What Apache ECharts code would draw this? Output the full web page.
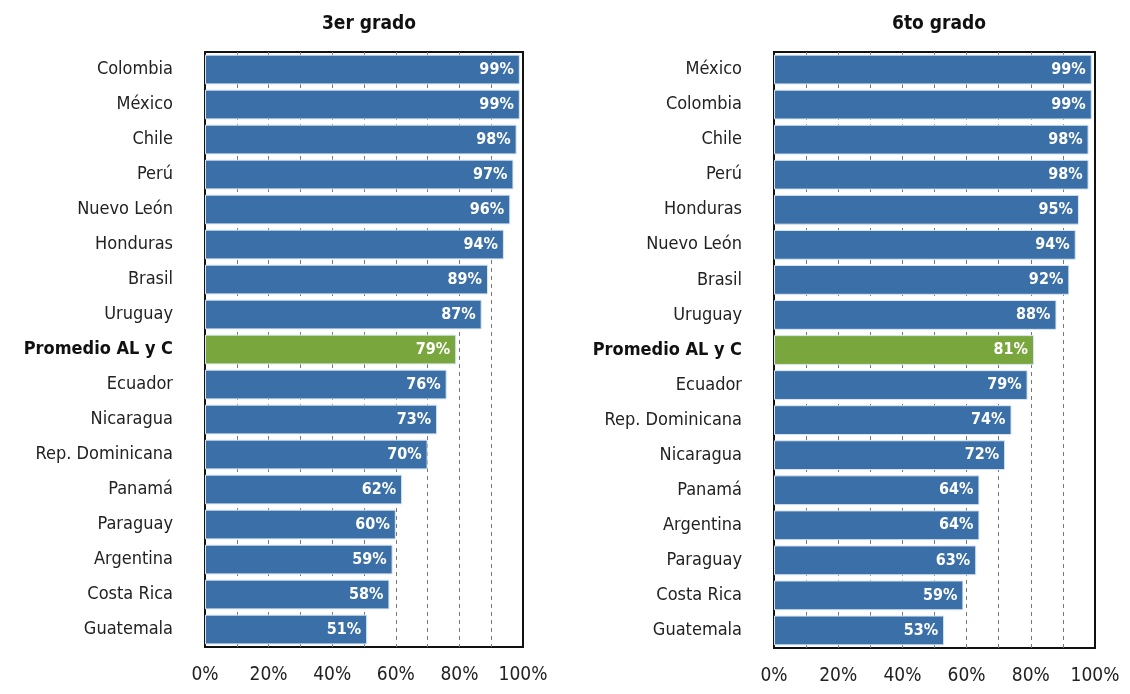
<!DOCTYPE html>
<html>
<head>
<meta charset="utf-8">
<script src="https://cdn.jsdelivr.net/npm/echarts@6/dist/echarts.min.js"></script>
<style>
html,body{margin:0;padding:0;background:#fff;}
#main{width:1130px;height:694px;}
</style>
</head>
<body>
<div id="main"></div>
<script>
var cats3 = ['Colombia','México','Chile','Perú','Nuevo León','Honduras','Brasil','Uruguay','Promedio AL y C','Ecuador','Nicaragua','Rep. Dominicana','Panamá','Paraguay','Argentina','Costa Rica','Guatemala'];
var vals3 = [99,99,98,97,96,94,89,87,79,76,73,70,62,60,59,58,51];
var cats6 = ['México','Colombia','Chile','Perú','Honduras','Nuevo León','Brasil','Uruguay','Promedio AL y C','Ecuador','Rep. Dominicana','Nicaragua','Panamá','Argentina','Paraguay','Costa Rica','Guatemala'];
var vals6 = [99,99,98,98,95,94,92,88,81,79,74,72,64,64,63,59,53];
var titles = ['3er grado','6to grado'];
var avgName = 'Promedio AL y C';

var font = "'DejaVu Sans Condensed','Liberation Sans Narrow',sans-serif";
var blue = '#3b6fa7', green = '#79a73d';
// dashed grid every 10%, none over the frame at 0% and 100%
var gridColors = ['rgba(0,0,0,0)','#777','#777','#777','#777','#777','#777','#777','#777','#777','rgba(0,0,0,0)'];

function barData(cats, vals){
	return vals.map(function(v,i){
		return {value:v, itemStyle:{color: cats[i]==avgName ? green : blue}};
	});
}
function xAx(idx){
	return {
		gridIndex:idx, type:'value', min:0, max:100, interval:10,
		axisLine:{show:false}, axisTick:{show:false},
		axisLabel:{
			margin:19, color:'#222', fontFamily:font, fontSize:19,
			formatter:function(v){ return v%20===0 ? v+'%' : ''; }
		},
		splitLine:{show:true, lineStyle:{color:gridColors, type:[4,4], width:1}}
	};
}
function yAx(idx, cats){
	return {
		gridIndex:idx, type:'category', inverse:true, data:cats,
		axisLine:{show:false}, axisTick:{show:false},
		axisLabel:{
			margin:32, color:'#222', fontFamily:font, fontSize:18,
			formatter:function(v){ return v==avgName ? '{b|'+v+'}' : v; },
			rich:{b:{fontWeight:'bold', color:'#111', fontFamily:font, fontSize:18}}
		}
	};
}
function ser(idx, cats, vals){
	return {
		type:'bar', xAxisIndex:idx, yAxisIndex:idx, barCategoryGap:'15%',
		data:barData(cats, vals),
		itemStyle:{borderColor:'#d8e6f2', borderWidth:1},
		label:{show:true, position:'insideRight', distance:6, color:'#fff', fontWeight:'bold',
			fontFamily:font, fontSize:16, formatter:'{c}%'}
	};
}

var myChar = echarts.init(document.getElementById('main'));
var myOption = {
	animation:false,
	backgroundColor:'#fff',
	title:[
		{text:titles[0], left:364, top:10, textAlign:'center', textStyle:{fontFamily:font, fontSize:19, fontWeight:'bold', color:'#111'}},
		{text:titles[1], left:934, top:10, textAlign:'center', textStyle:{fontFamily:font, fontSize:19, fontWeight:'bold', color:'#111'}}
	],
	grid:[
		{left:205, width:318, top:52, height:595, show:true, borderColor:'#111', borderWidth:2, backgroundColor:'#fff'},
		{left:774, width:321, top:52, height:596, show:true, borderColor:'#111', borderWidth:2, backgroundColor:'#fff'}
	],
	xAxis:[xAx(0), xAx(1)],
	yAxis:[yAx(0, cats3), yAx(1, cats6)],
	series:[ser(0, cats3, vals3), ser(1, cats6, vals6)]
};
myChar.setOption(myOption);
</script>
</body>
</html>
